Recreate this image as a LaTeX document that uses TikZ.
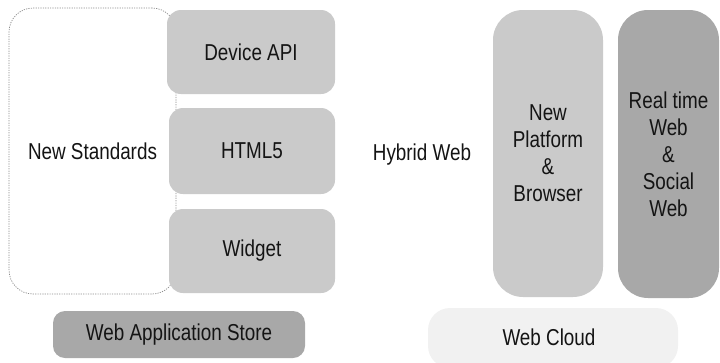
\documentclass[tikz,border=0pt]{standalone}
\usepackage{fontspec}
\setmainfont{Liberation Sans}[FakeStretch=0.82]
\definecolor{lightbox}{HTML}{CACACA}
\definecolor{darkbox}{HTML}{A8A8A8}
\definecolor{cloudfill}{HTML}{F1F1F1}
\definecolor{txt}{HTML}{141414}
\tikzset{
  lbl/.style={font=\fontsize{23}{27}\selectfont, text=txt, align=center, inner sep=0pt},
  lightpanel/.style={lbl, fill=lightbox, draw=none, rounded corners=14},
  darkpanel/.style={lbl, fill=darkbox, draw=none, rounded corners=14},
  outlinebox/.style={lbl, draw=black!45, line width=0.7pt, dash pattern=on 1.2pt off 1.2pt, rounded corners=24},
}
\begin{document}
\begin{tikzpicture}[x=1pt,y=-1pt]
\useasboundingbox (0,0) rectangle (720,362);
% New Standards group outline
\node[outlinebox, minimum width=167, minimum height=286] (ns) at (92.5,151) {New Standards};
% right stack
\node[lightpanel, minimum width=168, minimum height=84] (api) at (251,52) {Device API};
\node[lightpanel, minimum width=166, minimum height=86] (html) at (252,151) {HTML5};
\node[lightpanel, minimum width=166, minimum height=84] (widget) at (252,251) {Widget};
% store
\node[darkpanel, rounded corners=12, minimum width=252, minimum height=47] (store) at (179,334.5) {Web Application Store};
% hybrid web
\node[lbl] (hybrid) at (422,155) {Hybrid Web};
% platform
\node[lightpanel, rounded corners=30, minimum width=110, minimum height=287] (platform) at (548,153.5) {New\\Platform\\\&\\Browser};
\node[darkpanel, rounded corners=30, minimum width=101, minimum height=288] (realtime) at (668.5,154) {Real time\\Web\\\&\\Social\\Web};
% web cloud
\node[fill=cloudfill, draw=none, rounded corners=22, minimum width=250, minimum height=60] (cloudbg) at (553,338) {};
\node[lbl] (cloud) at (549,337) {Web Cloud};
\end{tikzpicture}
\end{document}
